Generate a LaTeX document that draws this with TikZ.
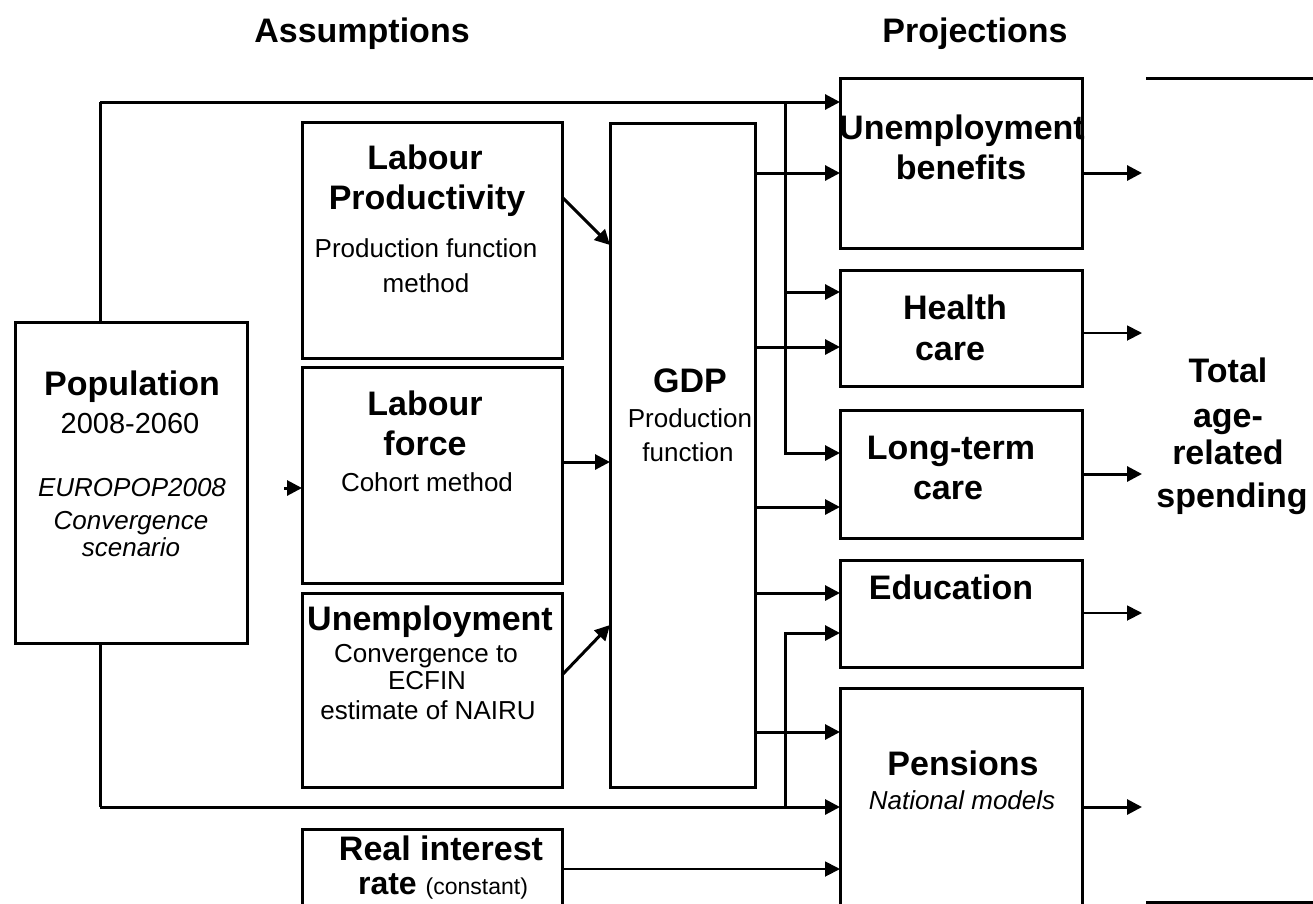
\documentclass[tikz,border=0pt]{standalone}
\usepackage{fontspec}
\setmainfont{Liberation Sans}
\usetikzlibrary{arrows.meta}
\begin{document}
\begin{tikzpicture}[x=1pt,y=-1pt,
  box/.style={draw, line width=3pt, inner sep=0pt, outer sep=0pt},
  hb/.style={font=\fontsize{34}{40}\selectfont\bfseries, inner sep=0pt, text height=24pt, text depth=0pt},
  sb/.style={font=\fontsize{26}{30}\selectfont, inner sep=0pt, text height=18.5pt, text depth=0pt},
  si/.style={font=\fontsize{26}{30}\selectfont\itshape, inner sep=0pt, text height=18.5pt, text depth=0pt},
  ln/.style={line width=3pt},
  arr/.style={line width=3pt, -{Triangle[length=15pt,width=15pt]}},
  tarr/.style={line width=1.8pt, -{Triangle[length=15pt,width=15pt]}}]
\useasboundingbox (0,0) rectangle (1313,903);
\clip (0,0) rectangle (1313,903);
% titles
\node[hb] (tA) at (362,30) {Assumptions};
\node[hb] (tP) at (975,30) {Projections};
% boxes
\node[box, minimum width=232pt, minimum height=321pt] (pop) at (131,482.5) {};
\node[box, minimum width=260pt, minimum height=236pt] (lp) at (432,240) {};
\node[box, minimum width=260pt, minimum height=216pt] (lf) at (432,475) {};
\node[box, minimum width=260pt, minimum height=194pt] (un) at (432,690) {};
\node[box, minimum width=260pt, minimum height=100pt] (ri) at (432,879) {};
\node[box, minimum width=145pt, minimum height=664pt] (gdp) at (682.5,455) {};
\node[box, minimum width=242pt, minimum height=170pt] (ub) at (961,163) {};
\node[box, minimum width=242pt, minimum height=116pt] (hc) at (961,328) {};
\node[box, minimum width=242pt, minimum height=128pt] (ltc) at (961,474) {};
\node[box, minimum width=242pt, minimum height=107pt] (edu) at (961,613.5) {};
\node[box, minimum width=242pt, minimum height=240pt] (pen) at (961,808) {};
% texts
\node[hb] (p1) at (132,383) {Population};
\node[font=\fontsize{29}{33}\selectfont, inner sep=0pt, text height=20.5pt, text depth=0pt] (p2) at (130,423) {2008-2060};
\node[si] (p3) at (132,487) {EUROPOP2008};
\node[si] (p4) at (131,520) {Convergence};
\node[si] (p5) at (131,547) {scenario};
\node[hb] (lp1) at (425,157) {Labour};
\node[hb] (lp2) at (427,197) {Productivity};
\node[sb] (lp3) at (426,248) {Production function};
\node[sb] (lp4) at (426,283) {method};
\node[hb] (lf1) at (425,403) {Labour};
\node[hb] (lf2) at (425,443) {force};
\node[sb] (lf3) at (427,482) {Cohort method};
\node[hb] (un1) at (430,618) {Unemployment};
\node[sb] (un2) at (426,653) {Convergence to};
\node[sb] (un3) at (427,680) {ECFIN};
\node[sb] (un4) at (428,710) {estimate of NAIRU};
\node[hb] (ri1) at (441,848) {Real interest};
\node[inner sep=0pt, text height=24pt, text depth=0pt] (ri2) at (443,882) {\fontsize{32}{38}\selectfont\bfseries rate \fontsize{23}{27}\selectfont\mdseries (constant)};
\node[hb] (g1) at (690,380) {GDP};
\node[sb] (g2) at (690,418) {Production};
\node[sb] (g3) at (688,452) {function};
\node[hb] (ub1) at (962,127) {Unemployment};
\node[hb] (ub2) at (961,167) {benefits};
\node[hb] (hc1) at (955,307) {Health};
\node[hb] (hc2) at (950,348) {care};
\node[hb] (lt1) at (951,447) {Long-term};
\node[hb] (lt2) at (948,487) {care};
\node[hb] (ed1) at (951,587) {Education};
\node[hb] (pe1) at (963,763) {Pensions};
\node[si] (pe2) at (962,800) {National models};
\node[hb] (to1) at (1228,370) {Total};
\node[hb] (to2) at (1228,415) {age-};
\node[hb] (to3) at (1228,452) {related};
\node[hb] (to4) at (1232,495) {spending};
% level coordinates
\coordinate (tl) at (100,102);
\coordinate (bl) at (100,807);
\coordinate (bus) at (785,102);
\coordinate (ox) at (1142,0);
\coordinate (popout) at (284,488);
\foreach \v in {173,197,245,292,333,347,453,462,474,507,593,613,625,633,675,732,869}
  \coordinate (y\v) at (0,\v);
% population connectors
\draw[ln] (pop.north -| tl) -- (tl);
\draw[arr] (tl) -- (ub.west |- tl);
\draw[ln] (pop.south -| bl) -- (bl);
\draw[arr] (bl) -- (pen.west |- bl);
\draw[arr] (bus) |- (ltc.west |- y453);
\draw[arr] (bus |- y292) -- (hc.west |- y292);
\draw[arr] (bus |- bl) |- (edu.west |- y633);
\draw[arr] (popout) -- (lf.west |- popout);
% assumptions to GDP
\draw[arr] (lp.east |- y197) -- (gdp.west |- y245);
\draw[arr] (lf.east |- y462) -- (gdp.west |- y462);
\draw[arr] (un.east |- y675) -- (gdp.west |- y625);
\draw[tarr] (ri.east |- y869) -- (pen.west |- y869);
% GDP to projections
\draw[arr] (gdp.east |- y173) -- (ub.west |- y173);
\draw[arr] (gdp.east |- y347) -- (hc.west |- y347);
\draw[arr] (gdp.east |- y507) -- (ltc.west |- y507);
\draw[arr] (gdp.east |- y593) -- (edu.west |- y593);
\draw[arr] (gdp.east |- y732) -- (pen.west |- y732);
% projections to total
\draw[arr] (ub.east |- y173) -- (ox |- y173);
\draw[tarr] (hc.east |- y333) -- (ox |- y333);
\draw[arr] (ltc.east |- y474) -- (ox |- y474);
\draw[tarr] (edu.east |- y613) -- (ox |- y613);
\draw[arr] (pen.east |- bl) -- (ox |- bl);
% right bracket lines
\coordinate (r1) at (1146,78);
\coordinate (r2) at (1313,78);
\coordinate (r3) at (1146,902);
\coordinate (r4) at (1313,902);
\draw[ln] (r1) -- (r2);
\draw[ln] (r3) -- (r4);
\end{tikzpicture}
\end{document}
